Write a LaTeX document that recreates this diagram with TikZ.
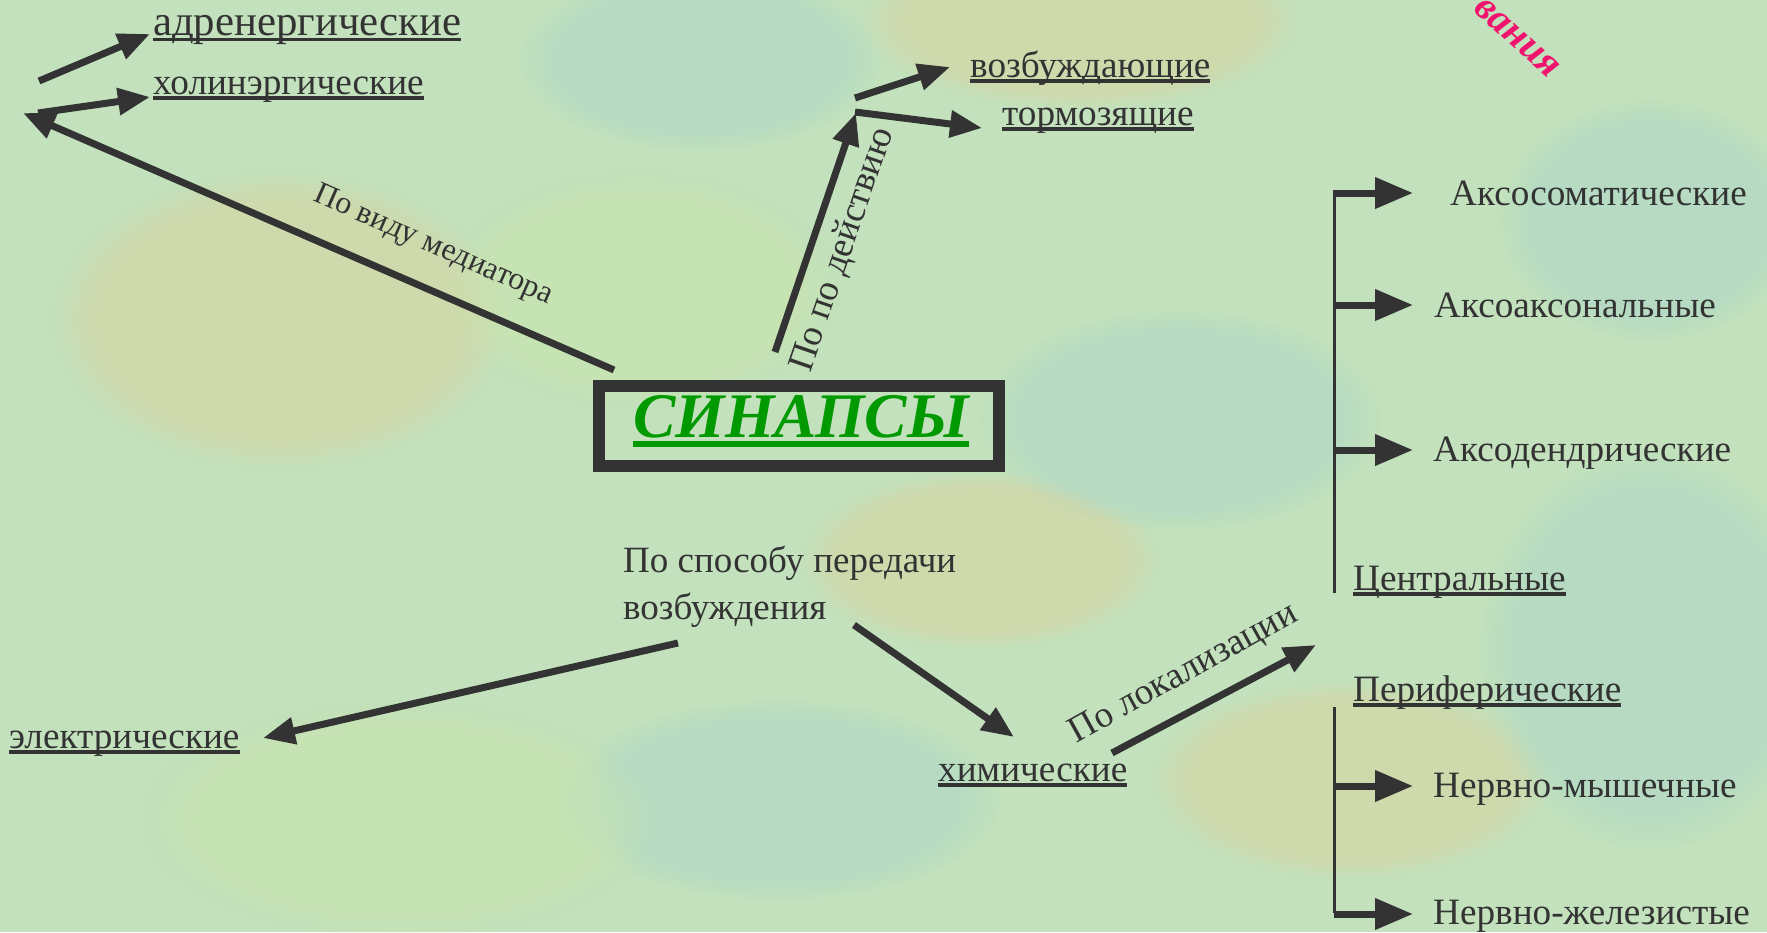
\documentclass[tikz,border=0pt]{standalone}
\usepackage{fontspec}
\setmainfont{Liberation Serif}
\usetikzlibrary{arrows.meta,fadings}
\definecolor{ink}{RGB}{51,51,51}
\definecolor{syngreen}{RGB}{0,153,0}
\definecolor{pinkred}{RGB}{240,20,110}
\definecolor{bgbase}{RGB}{194,225,188}
\definecolor{warm}{RGB}{226,205,150}
\definecolor{teal}{RGB}{165,212,205}
\definecolor{lime}{RGB}{205,230,170}
\newcommand\myul[1]{\setbox0=\hbox{#1}\leavevmode\rlap{\rule[-0.15em]{\wd0}{0.085em}}\box0}
\tikzset{
  lbl/.style={inner sep=0pt, text=ink, anchor=base west, font=\fontsize{37.2}{44}\selectfont},
  side/.style={inner sep=0pt, text=ink, font=\fontsize{37}{44}\selectfont},
  arr/.style={draw=ink, line width=7pt, -{Triangle[length=32pt,width=26pt]}},
  treearr/.style={draw=ink, line width=7pt, -{Triangle[length=38pt,width=30pt]}},
  treeline/.style={draw=ink, line width=3pt},
  patch/.style={fill=#1, path fading=circle with fuzzy edge 20 percent, fill opacity=0.4},
}
\begin{document}
\begin{tikzpicture}[x=1pt,y=-1pt]
\useasboundingbox (0,0) rectangle (1767,932);
\clip (0,0) rectangle (1767,932);
\fill[bgbase] (0,0) rectangle (1767,932);
% soft background patches
\fill[patch=warm] (280,320) ellipse (230 and 150);
\fill[patch=warm] (1080,20) ellipse (220 and 90);
\fill[patch=lime] (640,290) ellipse (200 and 120);
\fill[patch=warm] (1350,780) ellipse (200 and 100);
\fill[patch=warm] (980,560) ellipse (180 and 90);
\fill[patch=teal] (700,60) ellipse (180 and 90);
\fill[patch=teal] (1180,420) ellipse (200 and 110);
\fill[patch=teal] (1650,650) ellipse (170 and 200);
\fill[patch=teal] (780,800) ellipse (220 and 100);
\fill[patch=teal] (1650,220) ellipse (150 and 120);
\fill[patch=lime] (400,820) ellipse (260 and 120);

% central box
\node[draw=ink, line width=12pt, minimum width=400pt, minimum height=80pt, inner sep=0pt] (syn) at (799,426) {};
\node[inner sep=0pt, anchor=base, text=syngreen, font=\fontsize{63.5}{70}\selectfont\bfseries\itshape] (syntxt) at (801,437) {\myul{СИНАПСЫ}};

% mediator branch
\node[lbl, font=\fontsize{42.8}{48}\selectfont] (adr) at (153,35) {\myul{адренергические}};
\node[lbl] (chol) at (153,94) {\myul{холинэргические}};
\coordinate (medtail) at (614,370);
\coordinate (medhead) at (23,113);
\coordinate (adrtail) at (39,81);
\coordinate (adrhead) at (150,34);
\coordinate (choltail) at (38,113);
\coordinate (cholhead) at (150,97);
\draw[arr] (medtail) -- (medhead);
\draw[arr] (adrtail) -- (adrhead);
\draw[arr] (choltail) -- (cholhead);
\node[side, rotate=-23.7, font=\fontsize{31.7}{38}\selectfont] (medlbl) at (433,246) {По виду медиатора};

% action branch
\node[lbl] (exc) at (970,77) {\myul{возбуждающие}};
\node[lbl] (inh) at (1002,125) {\myul{тормозящие}};
\coordinate (acttail) at (775,352);
\coordinate (acthead) at (856,113);
\coordinate (exctail) at (855,98);
\coordinate (exchead) at (950,67);
\coordinate (inhtail) at (855,112);
\coordinate (inhhead) at (982,128);
\draw[arr] (acttail) -- (acthead);
\draw[arr] (exctail) -- (exchead);
\draw[arr] (inhtail) -- (inhhead);
\node[side, rotate=71] (actlbl) at (843,250) {По по действию};

% transmission branch
\node[side, anchor=north west, align=left, font=\fontsize{37}{47}\selectfont] (trans) at (623,546) {По способу передачи\\возбуждения};
\node[lbl] (elec) at (9,748) {\myul{электрические}};
\node[lbl] (chem) at (938,781) {\myul{химические}};
\coordinate (eltail) at (678,643);
\coordinate (elhead) at (263,738);
\coordinate (chtail) at (854,625);
\coordinate (chhead) at (1014,737);
\draw[arr] (eltail) -- (elhead);
\draw[arr] (chtail) -- (chhead);
\coordinate (loctail) at (1112,753);
\coordinate (lochead) at (1316,645);
\draw[arr] (loctail) -- (lochead);
\node[side, rotate=29] (loclbl) at (1184,674) {По локализации};

% localisation tree
\node[lbl] (cent) at (1353,590) {\myul{Центральные}};
\node[lbl] (peri) at (1353,701) {\myul{Периферические}};
\node[lbl] (soma) at (1450,205) {Аксосоматические};
\node[lbl] (axax) at (1434,317) {Аксоаксональные};
\node[lbl] (dend) at (1433,461) {Аксодендрические};
\node[lbl] (musc) at (1433,797) {Нервно-мышечные};
\node[lbl] (glan) at (1433,924) {Нервно-железистые};
\coordinate (ttop) at (1334,190);
\coordinate (tmid) at (1334,593);
\coordinate (btop) at (1334,707);
\coordinate (bbot) at (1334,913);
\coordinate (t1) at (1334,193);
\coordinate (t2) at (1334,305);
\coordinate (t3) at (1334,450);
\coordinate (b1) at (1334,786);
\coordinate (b2) at (1334,914);
\draw[treeline] (ttop) -- (tmid);
\draw[treeline] (btop) -- (bbot);
\draw[treearr] (t1) -- ++(79,0) coordinate (t1h);
\draw[treearr] (t2) -- ++(79,0) coordinate (t2h);
\draw[treearr] (t3) -- ++(79,0) coordinate (t3h);
\draw[treearr] (b1) -- ++(79,0) coordinate (b1h);
\draw[treearr] (b2) -- ++(79,0) coordinate (b2h);

% clipped title fragment
\node[inner sep=0pt, text=pinkred, rotate=-42, font=\fontsize{40}{46}\selectfont\bfseries\itshape] (frag) at (1517,38) {вания};
\end{tikzpicture}
\end{document}
